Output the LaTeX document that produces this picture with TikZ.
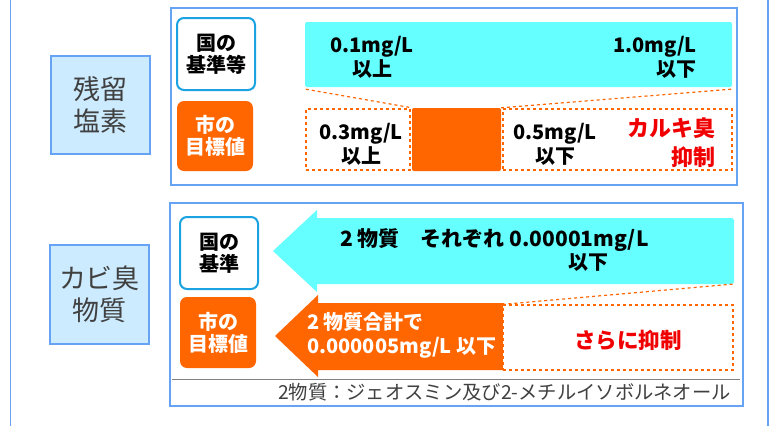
\documentclass[tikz,border=0pt]{standalone}
\usepackage{fontspec}
\setmainfont{Noto Sans CJK JP}
\usetikzlibrary{calc}
\definecolor{panelblue}{HTML}{66A3F5}
\definecolor{labelfill}{HTML}{CCEBFF}
\definecolor{kuniblue}{HTML}{1AA3E0}
\definecolor{cyanbar}{HTML}{66FFFF}
\definecolor{orangec}{HTML}{FF6600}
\definecolor{redtxt}{HTML}{F00000}
\definecolor{darkgray}{HTML}{404040}
\tikzset{
  panel/.style={draw=panelblue, line width=1.2pt, fill=white},
  bigLabel/.style={draw=panelblue, line width=1.5pt, fill=labelfill, text=darkgray, align=center,
     font=\fontsize{27}{32}\selectfont, inner sep=0pt},
  kuni/.style={draw=kuniblue, line width=2pt, fill=white, rounded corners=7pt, align=center,
     font=\fontsize{20}{22}\selectfont\bfseries, inner sep=0pt},
  shi/.style={fill=orangec, rounded corners=7pt, align=center, text=white,
     font=\fontsize{20}{22}\selectfont\bfseries, inner sep=0pt},
  dbox/.style={draw=orangec, dashed, line width=1.2pt, fill=white, inner sep=0pt},
  dline/.style={draw=orangec, dashed, line width=1.2pt},
  valtxt/.style={font=\fontsize{20}{24}\selectfont\bfseries, inner sep=0pt},
  redval/.style={font=\fontsize{22}{29}\selectfont\bfseries, text=redtxt, inner sep=0pt},
}
\begin{document}
\begin{tikzpicture}[x=1pt,y=-1pt]
\useasboundingbox (0,0) rectangle (772,426);
% side lines
\draw[panelblue, line width=1.5pt] (10.5,0) -- (10.5,426);
\draw[panelblue, line width=1.5pt] (768,0) -- (768,426);

% ===== top panel =====
\node[panel, minimum width=566pt, minimum height=177pt] (p1) at (454,96.5) {};
\node[bigLabel, minimum width=99pt, minimum height=98pt] (lab1) at (100.5,105) {残留\\塩素};
\node[kuni, minimum width=78pt, minimum height=72pt] (k1) at (216,54) {国の\\基準等};
\node[shi, minimum width=76pt, minimum height=70pt] (s1) at (215,136) {市の\\目標値};

\node[fill=cyanbar, rounded corners=2pt, minimum width=427pt, minimum height=65pt, inner sep=0pt] (bar1) at (518.5,54.5) {};
\node[dbox, minimum width=104pt, minimum height=61pt] (dl1) at (358,139.5) {};
\node[fill=orangec, rounded corners=2pt, minimum width=89pt, minimum height=63pt, inner sep=0pt] (om1) at (456.5,139.5) {};
\node[dbox, minimum width=229pt, minimum height=61pt] (dr1) at (617.5,139.5) {};
\draw[dline] ($(bar1.south west)+(1,2)$) -- (om1.north west);
\draw[dline] ($(bar1.south east)+(-1,2)$) -- (om1.north east);

\node[valtxt, align=center] (t01) at (372,57) {0.1mg/L\\以上};
\node[valtxt, align=right, anchor=east] (t10) at (697,57) {1.0mg/L\\以下};
\node[valtxt, align=center] (t03) at (361,144.5) {0.3mg/L\\以上};
\node[valtxt, align=center] (t05) at (555,144.5) {0.5mg/L\\以下};
\node[redval, align=right, anchor=east] (tk) at (716,142.5) {カルキ臭\\抑制};

% ===== bottom panel =====
\node[panel, minimum width=573pt, minimum height=203pt] (p2) at (456.5,304.5) {};
\node[bigLabel, minimum width=99pt, minimum height=99pt] (lab2) at (99.5,294.5) {カビ臭\\物質};
\node[kuni, minimum width=78pt, minimum height=72pt] (k2) at (219,253) {国の\\基準};
\node[shi, minimum width=76pt, minimum height=71pt] (s2) at (218,332.5) {市の\\目標値};

\coordinate (a1tip) at (273,251);
\coordinate (a1br) at (734,284);
\fill[cyanbar] (a1tip) -- (317,210) -- (317,218) -- (732,218) -- (734,220) -- (734,282) -- (732,284) -- (317,284) -- (317,292) -- cycle;
\coordinate (a2tip) at (275,336);
\fill[orangec] (a2tip) -- (318,295) -- (318,303) -- (504,303) -- (504,370) -- (318,370) -- (318,377) -- cycle;
\node[dbox, minimum width=230pt, minimum height=65pt] (dr2) at (618,337.5) {};
\draw[dline] (dr2.north west) -- (a1br);

\node[valtxt, font=\fontsize{21}{24}\selectfont\bfseries, anchor=west] (ta1) at (340,240) {2 物質\quad それぞれ 0.00001mg/L};
\node[valtxt] (ta1b) at (588,262) {以下};
\node[valtxt, text=white, align=left, anchor=west] (ta2) at (307,335) {2 物質合計で\\0.000005mg/L 以下};
\node[redval, font=\fontsize{21.5}{29}\selectfont\bfseries] (ts) at (628,340) {さらに抑制};

\draw[gray, line width=1pt] (172,379) -- (740,379);
\node[font=\fontsize{19.3}{20}\selectfont, text=darkgray, inner sep=0pt, anchor=east] (fn) at (731,392) {2物質：ジェオスミン及び2-メチルイソボルネオール};
\end{tikzpicture}
\end{document}
